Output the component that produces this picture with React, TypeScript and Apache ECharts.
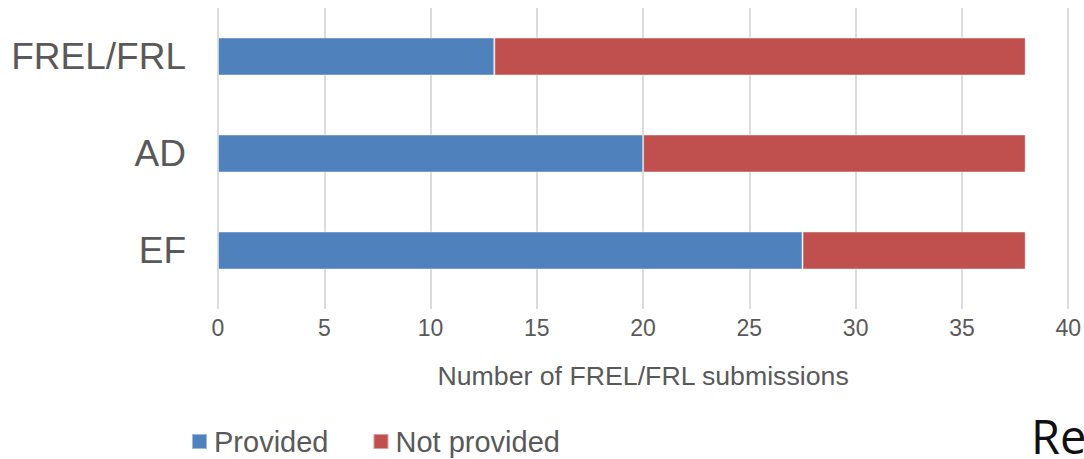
import React, { useEffect, useRef } from "react";
import * as echarts from "echarts";

const categories = ["EF", "AD", "FREL/FRL"];
const provided = [27.5, 20, 13];
const notProvided = [10.5, 18, 25];
const seriesNames = ["Provided", "Not provided"];
const xAxisTitle = "Number of FREL/FRL submissions";
const cornerText = "Re";

export default function App() {
  const ref = useRef<HTMLDivElement>(null);
  useEffect(() => {
    if (!ref.current) return;
    const chart = echarts.init(ref.current, null, { renderer: "svg" });
    const textColor = "#595959";
    const font = "'Liberation Sans', Arial, sans-serif";
    chart.setOption({
      animation: false,
      grid: { left: 218, right: 14, top: 8, height: 291, containLabel: false },
      legend: {
        left: 186,
        top: 422,
        itemWidth: 15,
        itemHeight: 15,
        itemGap: 44,
        icon: "rect",
        textStyle: { color: textColor, fontSize: 29, fontFamily: font, padding: [0, 0, 0, 2] },
        data: seriesNames,
      },
      xAxis: {
        type: "value",
        min: 0,
        max: 40,
        interval: 5,
        name: xAxisTitle,
        nameLocation: "middle",
        nameGap: 63,
        nameTextStyle: { color: textColor, fontSize: 26.7, fontFamily: font },
        axisLine: { show: false },
        axisTick: { show: true, length: 10, lineStyle: { color: "#dcdcdc", width: 2 } },
        axisLabel: { color: textColor, fontSize: 23, fontFamily: font, margin: 17 },
        splitLine: { show: true, lineStyle: { color: "#dcdcdc", width: 2 } },
      },
      yAxis: {
        type: "category",
        data: categories,
        axisLine: { show: false },
        axisTick: { show: false },
        axisLabel: { color: textColor, fontSize: 37, fontFamily: font, margin: 32 },
        splitLine: { show: false },
      },
      series: [
        {
          name: seriesNames[0],
          type: "bar",
          stack: "total",
          data: provided,
          barWidth: 38,
          itemStyle: { color: "#4f81bd", borderColor: "rgba(255,255,255,0.45)", borderWidth: 1 },
        },
        {
          name: seriesNames[1],
          type: "bar",
          stack: "total",
          data: notProvided,
          barWidth: 38,
          itemStyle: { color: "#c0504d", borderColor: "rgba(255,255,255,0.45)", borderWidth: 1 },
        },
      ],
      graphic: [
        {
          type: "text",
          left: 1031,
          top: 412,
          style: {
            text: cornerText,
            fill: "#111111",
            fontSize: 47,
            fontFamily: "'Open Sans', 'Noto Sans', sans-serif",
          },
        },
      ],
    });
    return () => chart.dispose();
  }, []);
  return <div ref={ref} style={{ width: 1084, height: 459, position: "absolute", left: 0, top: 0 }} />;
}
